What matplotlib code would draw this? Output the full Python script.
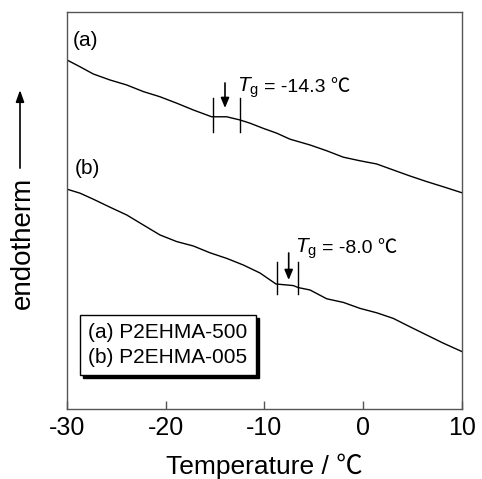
import numpy as np
import matplotlib
matplotlib.use("Agg")
import matplotlib.pyplot as plt
from matplotlib.lines import Line2D

plt.rcParams["font.family"] = ["Liberation Sans", "Noto Sans CJK JP", "DejaVu Sans"]
plt.rcParams["mathtext.fontset"] = "custom"
plt.rcParams["mathtext.rm"] = "Liberation Sans"
plt.rcParams["mathtext.it"] = "Liberation Sans:italic"
plt.rcParams["axes.unicode_minus"] = False

# ── data (arbitrary heat-flow units) ────────────────────────────────────────
temp_a = [-30.0, -28.68, -27.34, -25.65, -23.95, -22.27, -20.58, -18.89,
          -17.21, -15.35, -13.83, -12.48, -11.47, -10.12, -8.76, -7.42,
          -5.39, -3.70, -2.02, -0.33, 1.36, 3.04, 4.73, 6.42, 8.11, 10.0]
heat_a = [87.0, 85.3, 83.5, 82.0, 80.75, 79.1, 77.8, 76.2,
          74.5, 72.8, 72.8, 72.0, 71.2, 69.9, 68.7, 67.2,
          65.75, 64.3, 62.7, 61.8, 61.0, 59.5, 58.0, 56.6, 55.3, 53.8]

temp_b = [-30.0, -28.68, -27.34, -25.65, -23.95, -22.27, -20.58, -18.89,
          -17.21, -15.52, -13.83, -12.15, -10.46, -8.84, -7.08, -6.58,
          -5.39, -3.70, -2.02, -0.33, 1.36, 3.04, 4.73, 6.42, 8.11, 10.0]
heat_b = [54.7, 53.7, 52.2, 50.2, 48.25, 45.75, 43.25, 41.6,
          40.5, 38.8, 37.4, 35.75, 33.75, 31.0, 30.6, 30.1,
          29.5, 27.3, 26.4, 24.9, 23.8, 22.4, 20.3, 18.25, 16.2, 14.1]

# Tg onset / end markers and the Tg arrow position
tg_marks_a = [-15.22, -12.48]
tg_marks_b = [-8.76, -6.58]
tg_arrow_a = -14.0
tg_arrow_b = -7.55
tg_text_a = "= -14.3 ℃"
tg_text_b = "= -8.0 ℃"

labels = ["(a) P2EHMA-500", "(b) P2EHMA-005"]
xticks = [-30, -20, -10, 0, 10]

# ── figure ──────────────────────────────────────────────────────────────────
fig = plt.figure(figsize=(4.82, 4.79), dpi=100)
ax = fig.add_axes([0.139, 0.147, 0.8195, 0.828])

ax.plot(temp_a, heat_a, color="black", linewidth=1.0)
ax.plot(temp_b, heat_b, color="black", linewidth=1.0)

# Tg markers
for x in tg_marks_a:
    ax.plot([x, x], [69.0, 77.5], color="black", linewidth=1.0)
for x in tg_marks_b:
    ax.plot([x, x], [28.5, 36.5], color="black", linewidth=1.0)

arrow = dict(arrowstyle="-|>,head_length=0.6,head_width=0.25", color="black",
             linewidth=1.2, shrinkA=0, shrinkB=0)
ax.annotate("", xy=(tg_arrow_a, 75.0), xytext=(tg_arrow_a, 81.25), arrowprops=arrow)
ax.annotate("", xy=(tg_arrow_b, 32.0), xytext=(tg_arrow_b, 38.75), arrowprops=arrow)

# Tg labels
for x0, y0, txt in [(-12.78, 79.0, tg_text_a), (-6.91, 38.7, tg_text_b)]:
    ax.text(x0, y0, r"$T_\mathrm{g}$", fontsize=15, va="baseline", ha="left")
    ax.annotate(txt, xy=(x0, y0), xytext=(27, 0), textcoords="offset pixels",
                fontsize=14, va="baseline", ha="left")

ax.text(-29.4, 91.75, "(a)", fontsize=15, va="center", ha="left")
ax.text(-29.2, 59.9, "(b)", fontsize=15, va="center", ha="left")

# legend box with solid shadow
handles = [Line2D([], [], linestyle="none") for _ in labels]
leg = ax.legend(handles, labels, loc="lower left", bbox_to_anchor=(0.033, 0.085),
                borderaxespad=0, handlelength=0, handletextpad=0,
                fontsize=15, fancybox=False, framealpha=1,
                edgecolor="black", borderpad=0.4, labelspacing=0.25,
                shadow={"color": "black", "alpha": 1.0})
leg.get_frame().set_linewidth(1.0)

# axes styling
ax.set_xlim(-30, 10)
ax.set_ylim(-0.15, 99)
ax.set_xticks(xticks)
ax.set_yticks([])
ax.tick_params(axis="x", direction="in", length=6, width=1, labelsize=18,
               pad=5, color="#555555")
for sp in ax.spines.values():
    sp.set_color("#555555")
    sp.set_linewidth(1.0)

ax.set_xlabel("Temperature / ℃", fontsize=19, labelpad=10)

# y label: "endotherm" with upward arrow
fig.text(0.048, 0.493, "endotherm", rotation=90, fontsize=20,
         ha="center", va="center")
ax.annotate("", xy=(0.0415, 0.812), xytext=(0.0415, 0.649),
            xycoords="figure fraction", textcoords="figure fraction",
            arrowprops=dict(arrowstyle="-|>,head_length=0.7,head_width=0.25",
                            color="black", linewidth=1.2, shrinkA=0, shrinkB=0))

plt.savefig("out.png", dpi=100)
